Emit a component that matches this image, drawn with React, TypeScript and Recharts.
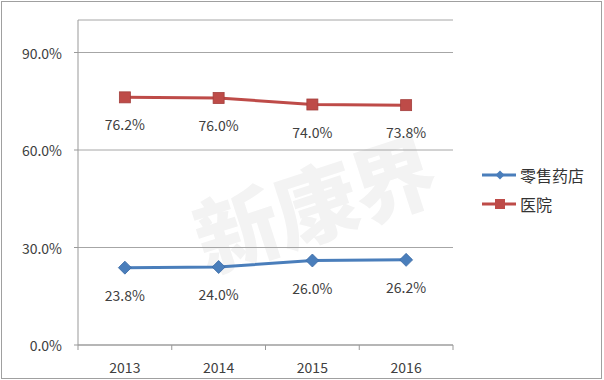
import React from "react";
import {
  LineChart,
  Line,
  XAxis,
  YAxis,
  CartesianGrid,
  LabelList,
} from "recharts";

const years = ["2013", "2014", "2015", "2016"];
const retail = [23.8, 24.0, 26.0, 26.2];
const hospital = [76.2, 76.0, 74.0, 73.8];
const yTicks = [0, 30, 60, 90];
const seriesNames = ["零售药店", "医院"];

const BLUE = "#4a7ebb";
const RED = "#be4b48";
const FONT = "'Noto Sans CJK SC', 'Liberation Sans', sans-serif";
const FS = 14;

const data = years.map((y, i) => ({
  year: y,
  retail: retail[i],
  hospital: hospital[i],
}));

const PLOT_LEFT = 78;
const PLOT_RIGHT = 453;
const PLOT_TOP = 20;
const PLOT_BOTTOM = 345;
const BAND = (PLOT_RIGHT - PLOT_LEFT) / years.length;

const Diamond = (props: any) => {
  const { cx, cy } = props;
  if (cx == null || cy == null) return null;
  const r = 6.5;
  return (
    <polygon
      points={`${cx},${cy - r} ${cx + r},${cy} ${cx},${cy + r} ${cx - r},${cy}`}
      fill={BLUE}
      stroke="#3a6aa5"
      strokeWidth={0.8}
    />
  );
};

const Square = (props: any) => {
  const { cx, cy } = props;
  if (cx == null || cy == null) return null;
  const s = 11;
  return (
    <rect
      x={cx - s / 2}
      y={cy - s / 2}
      width={s}
      height={s}
      fill={RED}
      stroke="#a33f3c"
      strokeWidth={0.8}
    />
  );
};

const ValueLabel = (props: any) => {
  const { x, y, width, value } = props;
  const cx = x + (width || 0) / 2;
  return (
    <text
      x={cx}
      y={y + 27}
      textAnchor="middle"
      dominantBaseline="central"
      fontSize={FS}
      fontFamily={FONT}
      fill="#404040"
    >
      {Number(value).toFixed(1)}%
    </text>
  );
};

const XTick = (props: any) => {
  const { x, payload, index } = props;
  const last = index === years.length - 1;
  return (
    <g>
      <line x1={x - BAND / 2} x2={x - BAND / 2} y1={PLOT_BOTTOM} y2={PLOT_BOTTOM + 5} stroke="#999" />
      {last && (
        <line x1={x + BAND / 2} x2={x + BAND / 2} y1={PLOT_BOTTOM} y2={PLOT_BOTTOM + 5} stroke="#999" />
      )}
      <text
        x={x}
        y={PLOT_BOTTOM + 22}
        textAnchor="middle"
        dominantBaseline="central"
        fontSize={FS}
        fontFamily={FONT}
        fill="#404040"
      >
        {payload.value}
      </text>
    </g>
  );
};

const YTick = (props: any) => {
  const { y, payload } = props;
  return (
    <g>
      <line x1={PLOT_LEFT - 4} x2={PLOT_LEFT} y1={y} y2={y} stroke="#999" />
      <text
        x={PLOT_LEFT - 16}
        y={y}
        textAnchor="end"
        dominantBaseline="central"
        fontSize={FS}
        fontFamily={FONT}
        fill="#404040"
      >
        {Number(payload.value).toFixed(1)}%
      </text>
    </g>
  );
};

const LegendBox = () => {
  const items = [
    { name: seriesNames[0], color: BLUE, shape: "diamond" },
    { name: seriesNames[1], color: RED, shape: "square" },
  ];
  return (
    <div
      style={{
        position: "absolute",
        left: 482,
        top: 165,
        fontFamily: "'Noto Sans CJK SC', sans-serif",
      }}
    >
      {items.map((it, i) => (
        <div
          key={it.name}
          style={{ display: "flex", alignItems: "center", height: 20, marginBottom: i === 0 ? 9 : 0 }}
        >
          <svg width={35} height={14}>
            <line x1={0} x2={34} y1={7} y2={7} stroke={it.color} strokeWidth={3} />
            {it.shape === "diamond" ? (
              <polygon points="18,2.5 22.5,7 18,11.5 13.5,7" fill={it.color} />
            ) : (
              <rect x={13} y={2} width={10} height={10} fill={it.color} />
            )}
          </svg>
          <span style={{ fontSize: 16, color: "#333", marginLeft: 3, lineHeight: "20px" }}>{it.name}</span>
        </div>
      ))}
    </div>
  );
};

export default function App() {
  return (
    <div style={{ position: "absolute", left: 0, top: 0, width: 604, height: 380, background: "#fff", overflow: "hidden" }}>
      <div
        style={{
          position: "absolute",
          left: 1,
          top: 1,
          width: 599,
          height: 376,
          border: "1px solid #a0a0a0",
        }}
      />
      <div
        style={{
          position: "absolute",
          left: 190,
          top: 140,
          fontSize: 84,
          fontWeight: 900,
          color: "#f3f3f3",
          fontFamily: "'Noto Sans CJK SC', sans-serif",
          transform: "rotate(-18deg)",
          letterSpacing: -2,
          pointerEvents: "none",
          whiteSpace: "nowrap",
        }}
      >
        新康界
      </div>
      <div style={{ position: "absolute", left: 0, top: 0 }}>
        <LineChart
          width={604}
          height={380}
          data={data}
          margin={{ top: PLOT_TOP, right: 604 - PLOT_RIGHT, left: 0, bottom: 0 }}
        >
          <CartesianGrid vertical={false} horizontal stroke="#a6a6a6" strokeWidth={1} fill="none" />
          <XAxis
            dataKey="year"
            scale="band"
            height={380 - PLOT_BOTTOM}
            axisLine={{ stroke: "#999" }}
            tickLine={false}
            tick={<XTick />}
            interval={0}
          />
          <YAxis
            width={PLOT_LEFT}
            domain={[0, 100]}
            ticks={yTicks}
            axisLine={{ stroke: "#999" }}
            tickLine={false}
            tick={<YTick />}
            interval={0}
          />
          <Line
            type="linear"
            dataKey="retail"
            name={seriesNames[0]}
            stroke={BLUE}
            strokeWidth={3}
            dot={<Diamond />}
            activeDot={false}
            isAnimationActive={false}
          >
            <LabelList dataKey="retail" content={<ValueLabel />} />
          </Line>
          <Line
            type="linear"
            dataKey="hospital"
            name={seriesNames[1]}
            stroke={RED}
            strokeWidth={3}
            dot={<Square />}
            activeDot={false}
            isAnimationActive={false}
          >
            <LabelList dataKey="hospital" content={<ValueLabel />} />
          </Line>
        </LineChart>
      </div>
      <LegendBox />
    </div>
  );
}
